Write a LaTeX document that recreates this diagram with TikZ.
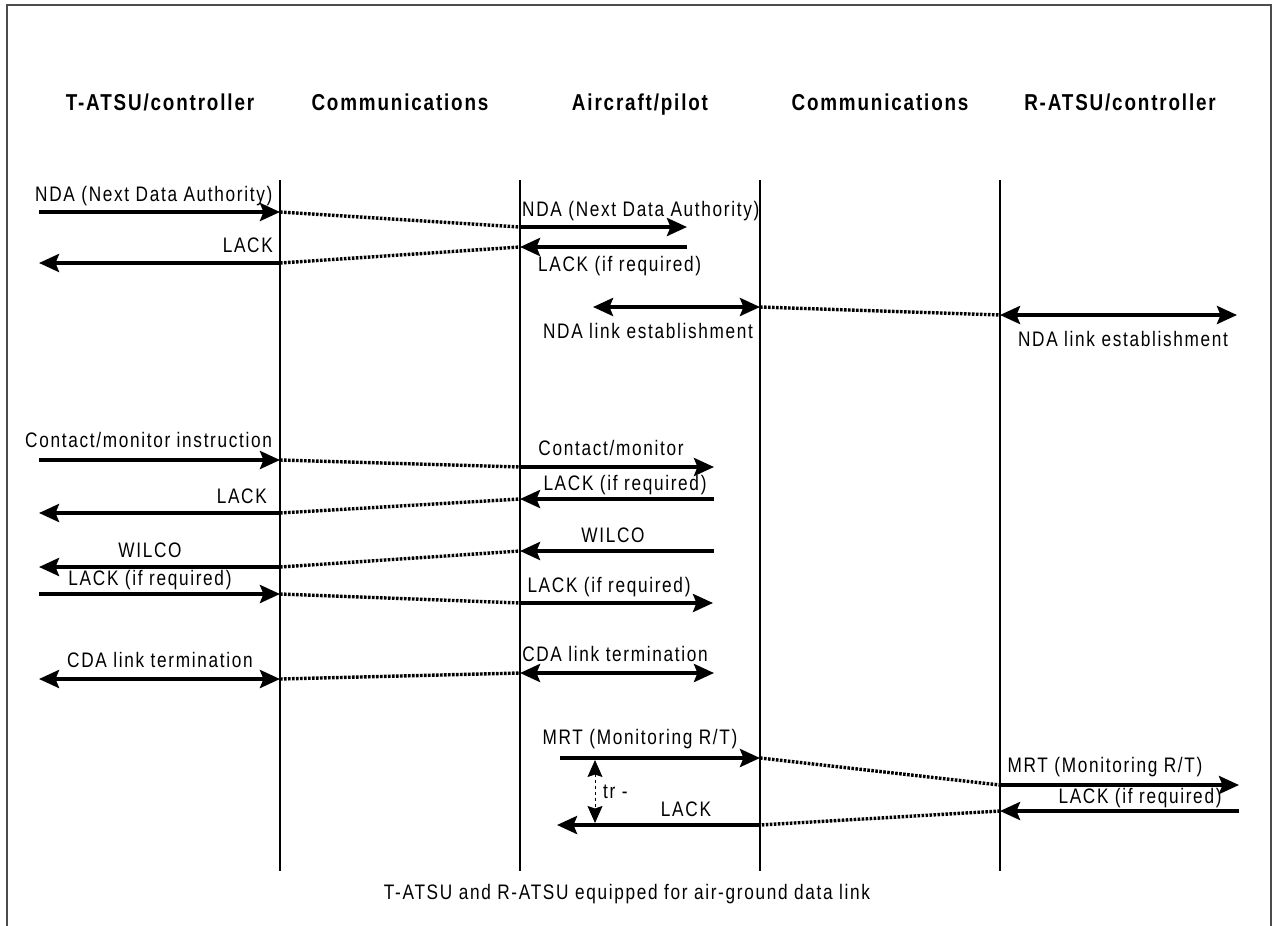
\documentclass[tikz,border=0pt]{standalone}
\usepackage{fontspec}
\setmainfont{Liberation Sans}[FakeStretch=0.82, LetterSpace=8]
\usetikzlibrary{arrows.meta}
\begin{document}
\begin{tikzpicture}[x=1pt, y=-1pt,
  msg/.style={line width=3.8pt, -{Stealth[length=20pt,width=18pt,inset=3.5pt]}},
  msgboth/.style={line width=3.8pt, {Stealth[length=20pt,width=18pt,inset=3.5pt]}-{Stealth[length=20pt,width=18pt,inset=3.5pt]}},
  relay/.style={line width=3.4pt, dash pattern=on 2.6pt off 1.4pt},
  lifeline/.style={line width=1.5pt},
  timer/.style={line width=1pt, dashed, {Stealth[length=17pt,width=15pt,inset=2.5pt]}-{Stealth[length=17pt,width=15pt,inset=2.5pt]}},
  lbl/.style={font=\fontsize{21}{25}\selectfont, inner sep=0pt},
  head/.style={font=\fontsize{23}{28}\selectfont\bfseries, inner sep=0pt, anchor=base},
  frameline/.style={line width=2pt, draw=black!70}]
\useasboundingbox (0,0) rectangle (1274,926);

% outer frame (open at the bottom)
\coordinate (fbl) at (6.5,926);
\coordinate (ftl) at (6.5,4.5);
\coordinate (ftr) at (1270.5,4.5);
\coordinate (fbr) at (1270.5,926);
\draw[frameline] (fbl) -- (ftl) -- (ftr) -- (fbr);

% column headings
\node[head] (h1) at (160,110) {T-ATSU/controller};
\node[head] (h2) at (400,110) {Communications};
\node[head] (h3) at (640,110) {Aircraft/pilot};
\node[head] (h4) at (880,110) {Communications};
\node[head] (h5) at (1120,110) {R-ATSU/controller};

% lifelines
\foreach \n/\x in {L1/280, L2/520, L3/760, L4/1000} {
  \coordinate (\n top) at (\x,180);
  \coordinate (\n bot) at (\x,871);
  \draw[lifeline] (\n top) -- (\n bot);
}

% ---- NDA ----
\coordinate (a1s) at (39,212);   \coordinate (a1e) at (280,212);
\coordinate (a2s) at (520,227);  \coordinate (a2e) at (687,227);
\draw[msg] (a1s) -- (a1e);
\draw[relay] (a1e) -- (a2s);
\draw[msg] (a2s) -- (a2e);
\node[lbl, anchor=base west] (ta1) at (35,201) {NDA (Next Data Authority)};
\node[lbl, anchor=base west] (ta2) at (522,216) {NDA (Next Data Authority)};

% ---- LACK ----
\coordinate (b1s) at (280,263);  \coordinate (b1e) at (39,263);
\coordinate (b2s) at (687,247);  \coordinate (b2e) at (520,247);
\draw[msg] (b1s) -- (b1e);
\draw[relay] (b1s) -- (b2e);
\draw[msg] (b2s) -- (b2e);
\node[lbl, anchor=base east] (tb1) at (273,252) {LACK};
\node[lbl, anchor=base west] (tb2) at (538,271) {LACK (if required)};

% ---- NDA link establishment ----
\coordinate (c1s) at (593,307);  \coordinate (c1e) at (760,307);
\coordinate (c2s) at (1000,315); \coordinate (c2e) at (1237,315);
\draw[msgboth] (c1s) -- (c1e);
\draw[relay] (c1e) -- (c2s);
\draw[msgboth] (c2s) -- (c2e);
\node[lbl, anchor=base] (tc1) at (648,338) {NDA link establishment};
\node[lbl, anchor=base] (tc2) at (1123,346) {NDA link establishment};

% ---- Contact/monitor ----
\coordinate (d1s) at (39,460);   \coordinate (d1e) at (280,460);
\coordinate (d2s) at (520,467);  \coordinate (d2e) at (714,467);
\draw[msg] (d1s) -- (d1e);
\draw[relay] (d1e) -- (d2s);
\draw[msg] (d2s) -- (d2e);
\node[lbl, anchor=base west] (td1) at (25,447) {Contact/monitor instruction};
\node[lbl, anchor=base] (td2) at (611,455) {Contact/monitor};

% ---- LACK ----
\coordinate (e1s) at (280,513);  \coordinate (e1e) at (39,513);
\coordinate (e2s) at (714,499);  \coordinate (e2e) at (520,499);
\draw[msg] (e1s) -- (e1e);
\draw[relay] (e1s) -- (e2e);
\draw[msg] (e2s) -- (e2e);
\node[lbl, anchor=base east] (te1) at (267,503) {LACK};
\node[lbl, anchor=base] (te2) at (625,490) {LACK (if required)};

% ---- WILCO ----
\coordinate (f1s) at (280,567);  \coordinate (f1e) at (39,567);
\coordinate (f2s) at (714,551);  \coordinate (f2e) at (520,551);
\draw[msg] (f1s) -- (f1e);
\draw[relay] (f1s) -- (f2e);
\draw[msg] (f2s) -- (f2e);
\node[lbl, anchor=base] (tf1) at (150,557) {WILCO};
\node[lbl, anchor=base] (tf2) at (613,542) {WILCO};

% ---- LACK (if required) ----
\coordinate (g1s) at (39,594);   \coordinate (g1e) at (280,594);
\coordinate (g2s) at (520,603);  \coordinate (g2e) at (713,603);
\draw[msg] (g1s) -- (g1e);
\draw[relay] (g1e) -- (g2s);
\draw[msg] (g2s) -- (g2e);
\node[lbl, anchor=base] (tg1) at (150,585) {LACK (if required)};
\node[lbl, anchor=base] (tg2) at (609,592) {LACK (if required)};

% ---- CDA link termination ----
\coordinate (h1s) at (39,679);   \coordinate (h1e) at (280,679);
\coordinate (h2s) at (520,673);  \coordinate (h2e) at (714,673);
\draw[msgboth] (h1s) -- (h1e);
\draw[relay] (h1e) -- (h2s);
\draw[msgboth] (h2s) -- (h2e);
\node[lbl, anchor=base] (th1) at (160,667) {CDA link termination};
\node[lbl, anchor=base] (th2) at (615,661) {CDA link termination};

% ---- MRT ----
\coordinate (i1s) at (560,758);  \coordinate (i1e) at (760,758);
\coordinate (i2s) at (1000,785); \coordinate (i2e) at (1239,785);
\draw[msg] (i1s) -- (i1e);
\draw[relay] (i1e) -- (i2s);
\draw[msg] (i2s) -- (i2e);
\node[lbl, anchor=base] (ti1) at (640,744) {MRT (Monitoring R/T)};
\node[lbl, anchor=base] (ti2) at (1105,772) {MRT (Monitoring R/T)};

% ---- LACK ----
\coordinate (j1s) at (1239,811); \coordinate (j1e) at (1000,811);
\coordinate (j2s) at (760,825);  \coordinate (j2e) at (557,825);
\draw[msg] (j1s) -- (j1e);
\draw[relay] (j1e) -- (j2s);
\draw[msg] (j2s) -- (j2e);
\node[lbl, anchor=base] (tj1) at (1140,803) {LACK (if required)};
\node[lbl, anchor=base] (tj2) at (686,816) {LACK};

% ---- timer tr ----
\coordinate (trt) at (595,760);
\coordinate (trb) at (595,823);
\draw[timer] (trt) -- (trb);
\node[lbl, anchor=base west] (ttr) at (603,798) {tr -};

% caption
\node[lbl, anchor=base] (cap) at (627,899) {T-ATSU and R-ATSU equipped for air-ground data link};
\end{tikzpicture}
\end{document}
